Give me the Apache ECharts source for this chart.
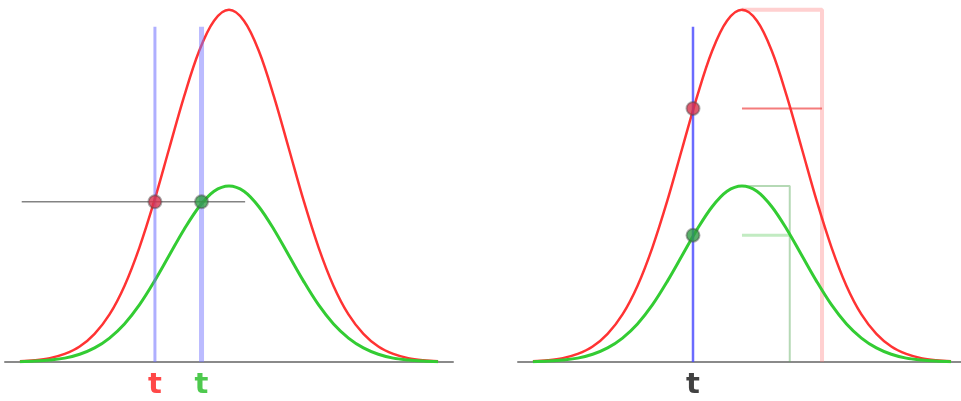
<!DOCTYPE html>
<html>
<head>
<meta charset="utf-8">
<script src="https://cdn.jsdelivr.net/npm/echarts@6/dist/echarts.min.js"></script>
<style>html,body{margin:0;padding:0;background:#fff}#c{width:961px;height:401px}</style>
</head>
<body>
<div id="c"></div>
<script>
// Sample positions along each curve (in units of the curve width)
const xs = [-3.5,-3.25,-3,-2.75,-2.5,-2.25,-2,-1.75,-1.5,-1.25,-1,-0.75,-0.5,-0.25,0,0.25,0.5,0.75,1,1.25,1.5,1.75,2,2.25,2.5,2.75,3,3.25,3.5];
// Tall red curve heights
const redY = [0.002,0.005,0.011,0.023,0.044,0.080,0.135,0.216,0.325,0.458,0.607,0.755,0.883,0.969,1.0,0.969,0.883,0.755,0.607,0.458,0.325,0.216,0.135,0.080,0.044,0.023,0.011,0.005,0.002];
// Short green curve heights
const greenY = [0.001,0.003,0.006,0.011,0.022,0.040,0.068,0.108,0.162,0.229,0.303,0.377,0.441,0.485,0.5,0.485,0.441,0.377,0.303,0.229,0.162,0.108,0.068,0.040,0.022,0.011,0.006,0.003,0.001];

// Left panel: two times giving equal heights
const leftTimes = [-1.24, -0.46];
const leftLevel = 0.455;
const levelLineX = [-3.47, 0.27];
const leftLabels = ['t', 't'];
const leftLabelColors = ['#ff1a1a', '#22bb22'];

// Right panel: one time, heights on each curve
const rightTime = -0.82;
const rightRedValue = 0.72;
const rightGreenValue = 0.36;
const redPeak = 1.0;
const greenPeak = 0.5;
const redBoxX = 1.34;
const greenBoxX = 0.80;
const rightLabel = 't';

const lineTop = 0.952;

const curve = ys => xs.map((x, i) => [x, ys[i]]);

const chart = echarts.init(document.getElementById('c'), null, {renderer: 'canvas'});

function axes(idx, xmax) {
  return {
    x: {type: 'value', gridIndex: idx, min: -3.75, max: xmax, axisLine: {show: true, onZero: false, lineStyle: {color: '#8a8a8a', width: 2}}, axisTick: {show: false}, axisLabel: {show: false}, splitLine: {show: false}},
    y: {type: 'value', gridIndex: idx, min: 0, max: 1.028, show: false, splitLine: {show: false}}
  };
}
const a0 = axes(0, 3.75), a1 = axes(1, 3.667);

function seg(idx, data, color, width, z) {
  return {type: 'line', xAxisIndex: idx, yAxisIndex: idx, data: data, symbol: 'none', silent: true, z: z || 2,
    lineStyle: {color: color, width: width}, animation: false};
}
function dot(idx, pt, color) {
  return {type: 'scatter', xAxisIndex: idx, yAxisIndex: idx, data: [pt], symbolSize: 13, z: 10,
    itemStyle: {color: color, borderColor: 'rgba(70,70,70,0.55)', borderWidth: 2}, animation: false};
}
function label(idx, x, text, color) {
  return {type: 'scatter', xAxisIndex: idx, yAxisIndex: idx, data: [[x, 0]], symbolSize: 0, z: 10,
    label: {show: true, position: 'bottom', distance: 9, formatter: text, color: color, fontSize: 29, fontWeight: 'bold', fontFamily: 'DejaVu Sans'},
    animation: false};
}

const series = [
  // Left panel
  seg(0, curve(redY), '#ff3333', 2.5, 3),
  seg(0, curve(greenY), '#33cc33', 3, 3),
  seg(0, [[leftTimes[0], 0], [leftTimes[0], lineTop]], 'rgba(110,110,255,0.55)', 3, 4),
  seg(0, [[leftTimes[1], 0], [leftTimes[1], lineTop]], 'rgba(120,120,255,0.5)', 5, 4),
  seg(0, [[levelLineX[0], leftLevel], [levelLineX[1], leftLevel]], 'rgba(100,100,100,0.8)', 1.5, 5),
  dot(0, [leftTimes[0], leftLevel], '#d8304a'),
  dot(0, [leftTimes[1], leftLevel], '#2e9e44'),
  label(0, leftTimes[0], leftLabels[0], leftLabelColors[0]),
  label(0, leftTimes[1], leftLabels[1], leftLabelColors[1]),
  // Right panel
  seg(1, [[0, redPeak], [redBoxX, redPeak], [redBoxX, 0]], 'rgba(255,120,120,0.35)', 4, 1),
  seg(1, [[0, rightRedValue], [redBoxX, rightRedValue]], 'rgba(240,80,80,0.75)', 2, 1),
  seg(1, [[0, greenPeak], [greenBoxX, greenPeak], [greenBoxX, 0]], 'rgba(90,170,90,0.45)', 2, 1),
  seg(1, [[0, rightGreenValue], [greenBoxX, rightGreenValue]], 'rgba(120,210,120,0.45)', 3, 1),
  seg(1, curve(redY), '#ff3333', 2.5, 3),
  seg(1, curve(greenY), '#33cc33', 3, 3),
  seg(1, [[rightTime, 0], [rightTime, lineTop]], 'rgba(70,70,255,0.8)', 2.5, 4),
  dot(1, [rightTime, rightRedValue], '#d8304a'),
  dot(1, [rightTime, rightGreenValue], '#2e9e44'),
  label(1, rightTime, rightLabel, '#111111')
];
series.forEach(s => { if (s.type === 'line') s.smooth = 0.35; });

chart.setOption({
  animation: false,
  grid: [
    {left: 5, width: 448, top: 0, height: 362},
    {left: 518, width: 443, top: 0, height: 362}
  ],
  xAxis: [a0.x, a1.x],
  yAxis: [a0.y, a1.y],
  series: series
});
</script>
</body>
</html>
